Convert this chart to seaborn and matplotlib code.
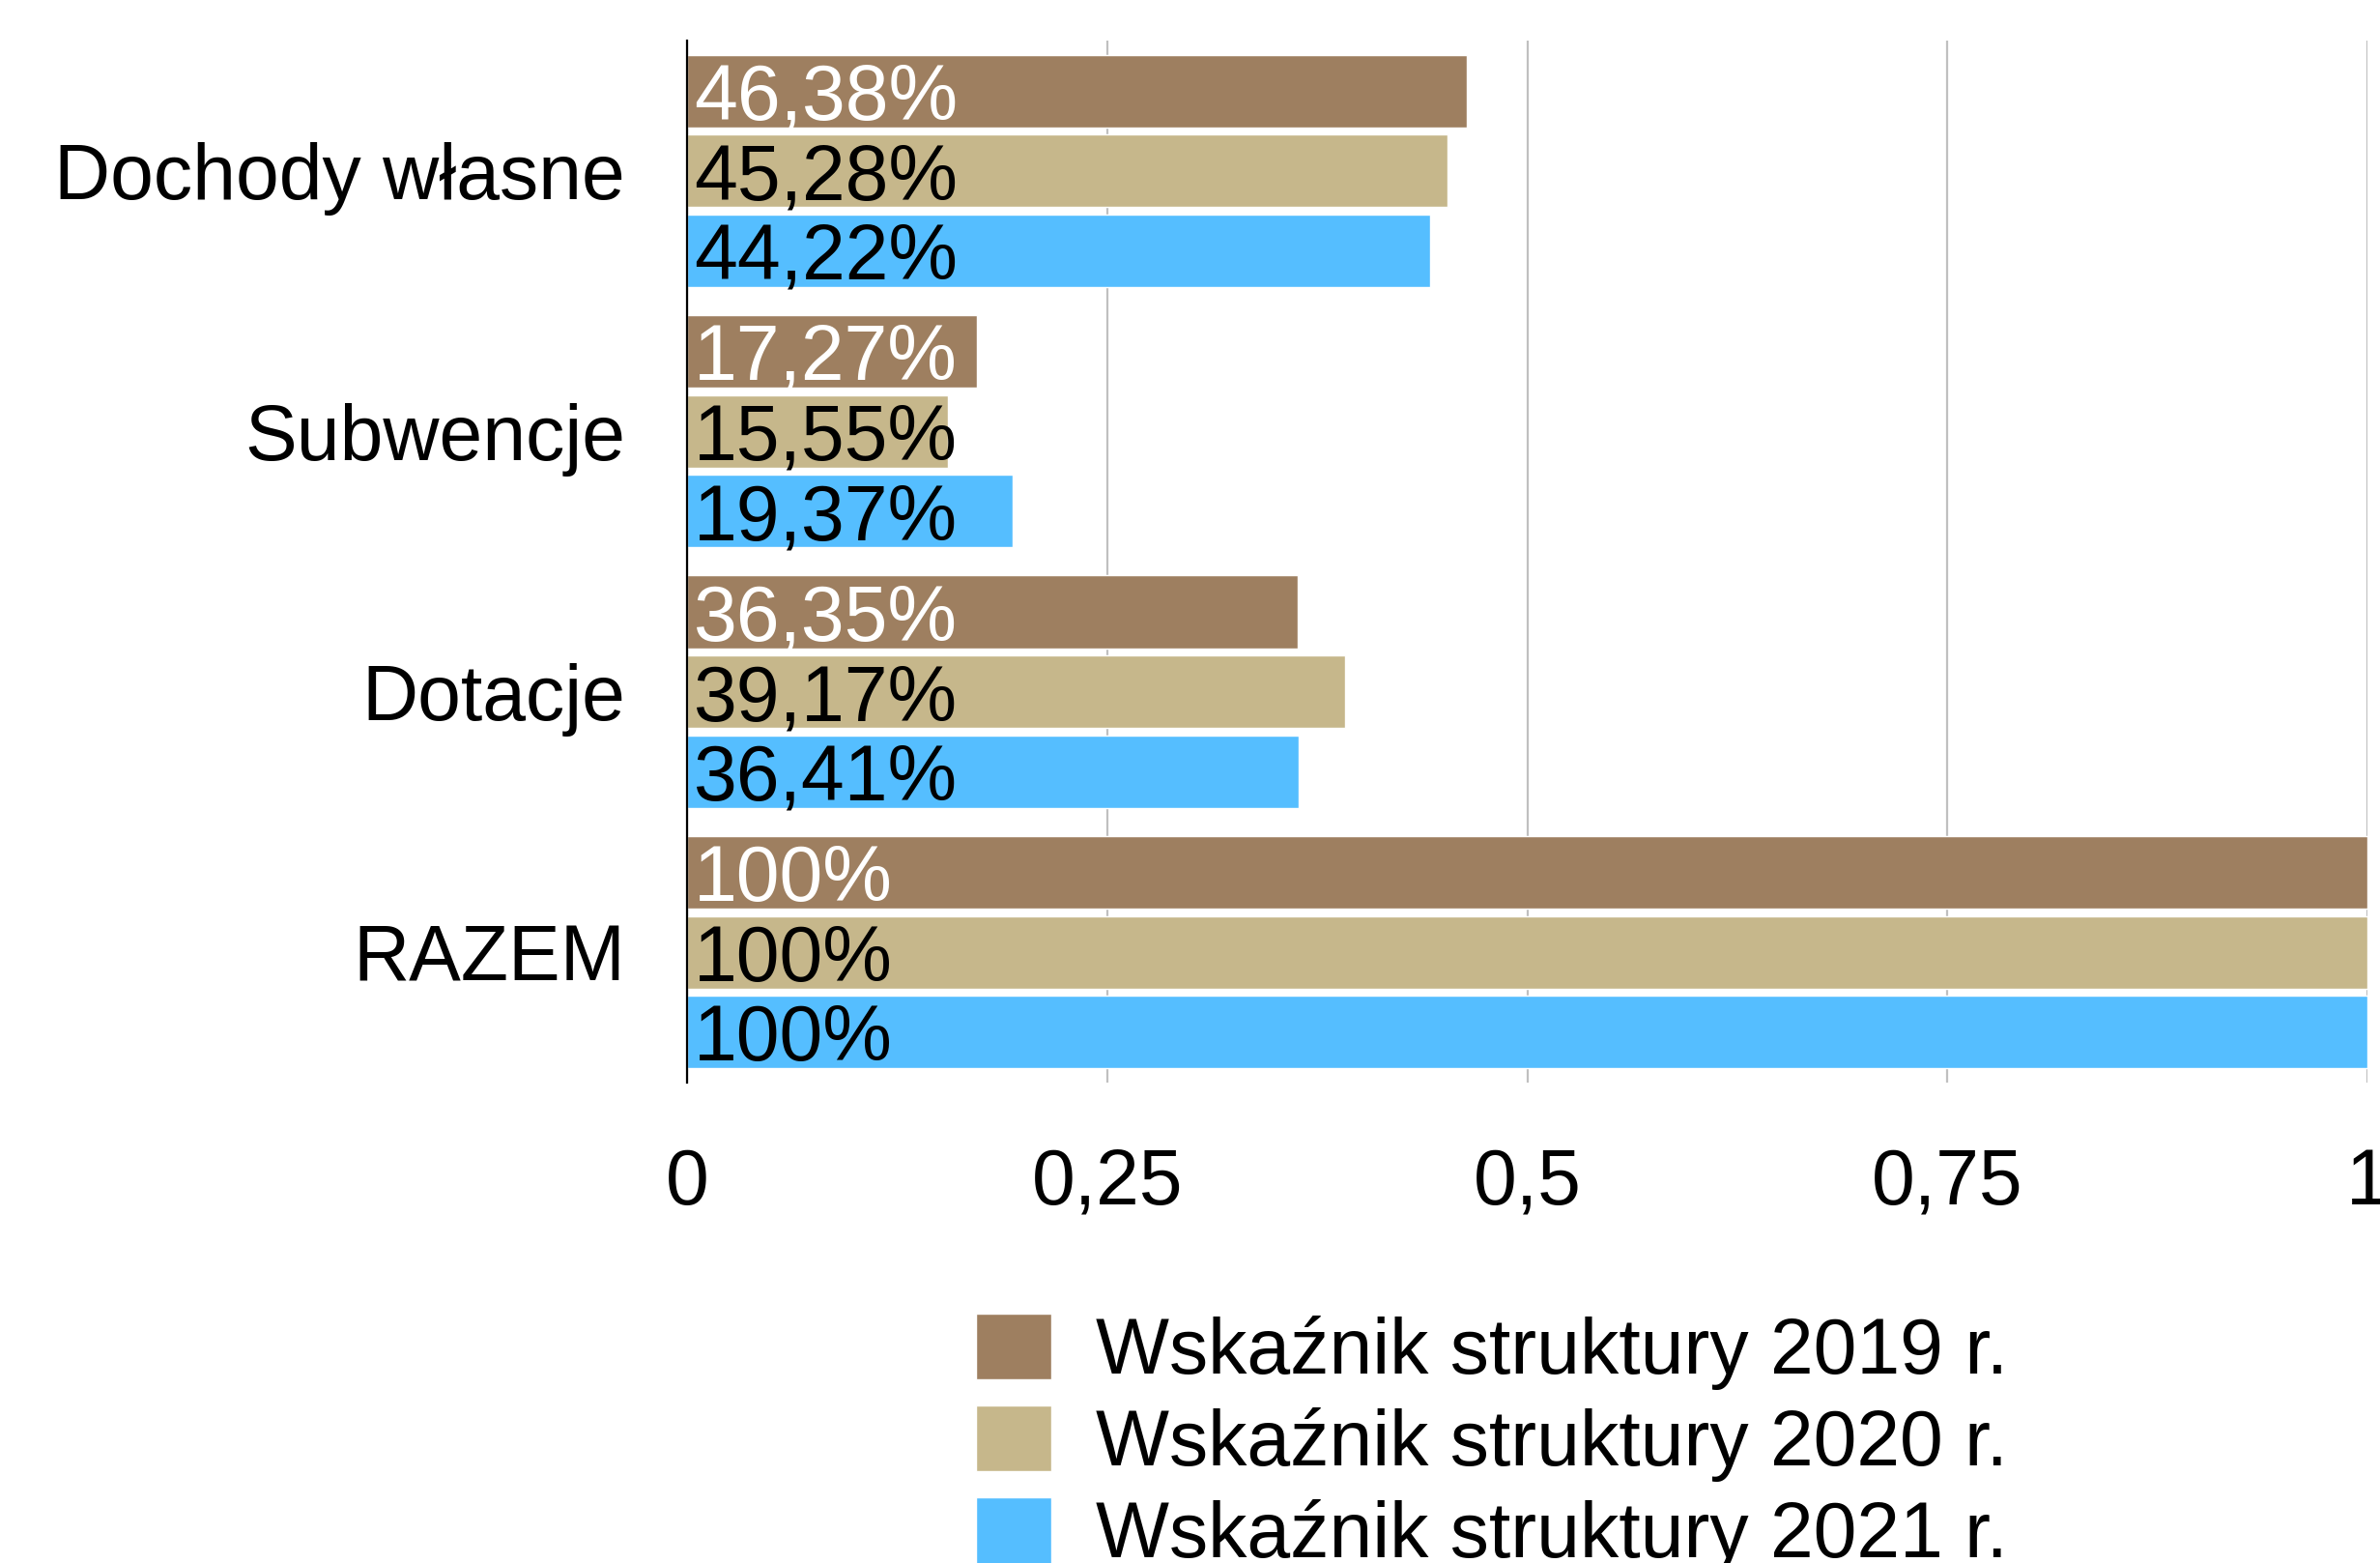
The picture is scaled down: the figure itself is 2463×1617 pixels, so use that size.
import pandas as pd
import numpy as np
import matplotlib.pyplot as plt
import seaborn as sns

# --------------------------------------------------
# Data: wskaźnik struktury dochodów
# --------------------------------------------------
categories = ['Dochody własne', 'Subwencje', 'Dotacje', 'RAZEM']
years = ['Wskaźnik struktury 2019 r.', 'Wskaźnik struktury 2020 r.', 'Wskaźnik struktury 2021 r.']
share_2019 = [0.4638, 0.1727, 0.3635, 1.0]
share_2020 = [0.4528, 0.1555, 0.3917, 1.0]
share_2021 = [0.4422, 0.1937, 0.3641, 1.0]
tick_values = [0, 0.25, 0.5, 0.75, 1]
tick_labels = ['0', '0,25', '0,5', '0,75', '1']
colors = ['#9E7F60', '#C6B78B', '#55BEFF']

df = pd.DataFrame({
    'kategoria': categories * 3,
    'rok': [years[0]] * 4 + [years[1]] * 4 + [years[2]] * 4,
    'wartosc': share_2019 + share_2020 + share_2021,
})


def pl_pct(v):
    s = f"{v * 100:.2f}".rstrip('0').rstrip('.')
    return s.replace('.', ',') + '%'


# --------------------------------------------------
# Plot
# --------------------------------------------------
sns.set_style('white', rc={'text.color': 'black', 'xtick.color': 'black',
                           'ytick.color': 'black', 'axes.labelcolor': 'black'})
plt.rcParams['font.family'] = ['Liberation Sans', 'DejaVu Sans']

fig = plt.figure(figsize=(24.63, 16.17), dpi=100)
ax = fig.add_axes([0.2887, 0.3074, 0.706, 0.6666])

sns.barplot(data=df, y='kategoria', x='wartosc', hue='rok', order=categories,
            hue_order=years, palette=colors, orient='h', errorbar=None,
            width=0.92, gap=0.09, saturation=1, ax=ax)

# labels inside bars
for i, cont in enumerate(ax.containers):
    txt_color = 'white' if i == 0 else 'black'
    for bar, v in zip(cont.patches, [share_2019, share_2020, share_2021][i]):
        ax.annotate(pl_pct(v), xy=(0, bar.get_y() + bar.get_height() / 2),
                    xytext=(5, -6), textcoords='offset points',
                    ha='left', va='center', fontsize=58, color=txt_color)

ax.set_xlim(0, 1)
ax.set_xticks(tick_values)
ax.set_xticklabels(tick_labels)
ax.set_xlabel('')
ax.set_ylabel('')
ax.tick_params(axis='x', length=0, pad=48, labelsize=58, labelcolor='black')
ax.tick_params(axis='y', length=0, pad=46, labelsize=58, labelcolor='black')
ax.grid(axis='x', color='#C0C0C0', linewidth=1.6)
ax.grid(axis='y', visible=False)
ax.set_axisbelow(True)

for side in ['top', 'right', 'bottom']:
    ax.spines[side].set_visible(False)
ax.spines['left'].set_color('black')
ax.spines['left'].set_linewidth(1.6)

handles, labels = ax.get_legend_handles_labels()
ax.get_legend().remove()
fig.legend(handles, labels, loc='upper left', bbox_to_anchor=(1010 / 2463, 1 - 1359 / 1617),
           frameon=False, fontsize=58, borderpad=0, handlelength=0.97, handleheight=0.93,
           handletextpad=0.57, labelspacing=0.2, borderaxespad=0, labelcolor='black')

plt.savefig('out.png', dpi=100)
